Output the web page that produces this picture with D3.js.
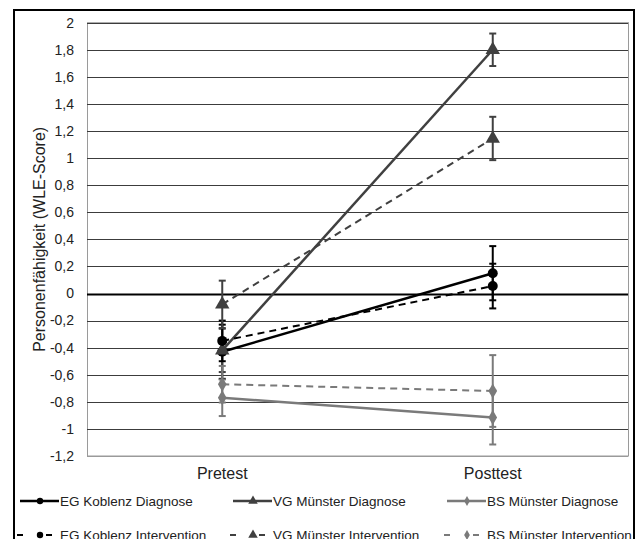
<!DOCTYPE html>
<html>
<head>
<meta charset="utf-8">
<script src="https://cdn.jsdelivr.net/npm/d3@7"></script>
<style>
  body { margin: 0; background: #fff; }
  text { font-family: "Liberation Sans", Arial, sans-serif; }
</style>
</head>
<body>
<div id="graph"></div>
<script>
var width = 639, height = 539;

// data
var categories = ["Pretest", "Posttest"];
var seriesNames = ["EG Koblenz Diagnose", "VG Münster Diagnose", "BS Münster Diagnose",
                   "EG Koblenz Intervention", "VG Münster Intervention", "BS Münster Intervention"];
var egDiagnose = [-0.43, 0.15], egDiagnoseErr = [0.2, 0.2];
var vgDiagnose = [-0.42, 1.80], vgDiagnoseErr = [0.16, 0.12];
var bsDiagnose = [-0.77, -0.915], bsDiagnoseErr = [0.135, 0.2];
var egIntervention = [-0.35, 0.055], egInterventionErr = [0.15, 0.165];
var vgIntervention = [-0.08, 1.145], vgInterventionErr = [0.175, 0.16];
var bsIntervention = [-0.67, -0.72], bsInterventionErr = [0.135, 0.265];
var yTicks = [2, 1.8, 1.6, 1.4, 1.2, 1, 0.8, 0.6, 0.4, 0.2, 0, -0.2, -0.4, -0.6, -0.8, -1, -1.2];

var series = [
  {name: seriesNames[0], values: egDiagnose, err: egDiagnoseErr, color: "#000", shape: "circle", dash: null, w: 2.5},
  {name: seriesNames[1], values: vgDiagnose, err: vgDiagnoseErr, color: "#404040", shape: "triangle", dash: null, w: 2.5},
  {name: seriesNames[2], values: bsDiagnose, err: bsDiagnoseErr, color: "#7a7a7a", shape: "diamond", dash: null, w: 2.5},
  {name: seriesNames[3], values: egIntervention, err: egInterventionErr, color: "#000", shape: "circle", dash: "7,5", w: 2},
  {name: seriesNames[4], values: vgIntervention, err: vgInterventionErr, color: "#404040", shape: "triangle", dash: "7,5", w: 2},
  {name: seriesNames[5], values: bsIntervention, err: bsInterventionErr, color: "#7a7a7a", shape: "diamond", dash: "7,5", w: 2}
];

var svg = d3.select('#graph').append('svg')
    .attr('width', width)
    .attr('height', height);

// outer frame
svg.append("rect")
    .attr("x", 14).attr("y", 10)
    .attr("width", 620).attr("height", 540)
    .attr("fill", "none").attr("stroke", "#000").attr("stroke-width", 2);

var plotLeft = 87, plotRight = 628, plotTop = 22.7, plotBottom = 456;

var x = d3.scalePoint().domain(categories).range([plotLeft, plotRight]).padding(0.5);
var y = d3.scaleLinear().domain([-1.2, 2]).range([plotBottom, plotTop]);

// plot border
svg.append("rect")
    .attr("x", plotLeft + 0.5).attr("y", plotTop)
    .attr("width", plotRight - plotLeft).attr("height", plotBottom - plotTop)
    .attr("fill", "none").attr("stroke", "#9a9a9a").attr("stroke-width", 1);

// gridlines
svg.append("g").selectAll("line")
    .data(yTicks)
  .enter().append("line")
    .attr("x1", plotLeft).attr("x2", plotRight)
    .attr("y1", function(d) { return Math.round(y(d)) + 0.5; })
    .attr("y2", function(d) { return Math.round(y(d)) + 0.5; })
    .attr("stroke", function(d) { return d === 0 ? "#000" : (d === -1.2 ? "#9a9a9a" : "#3c3c3c"); })
    .attr("stroke-width", function(d) { return d === 0 ? 2 : 1; });

// y labels
svg.append("g").selectAll("text")
    .data(yTicks)
  .enter().append("text")
    .attr("x", 74)
    .attr("y", function(d) { return y(d); })
    .attr("dy", "0.35em")
    .attr("text-anchor", "end")
    .attr("font-size", 14)
    .attr("fill", "#222")
    .text(function(d) { return String(d).replace(".", ","); });

svg.append("text")
    .attr("transform", "translate(39," + ((plotTop + plotBottom) / 2) + ") rotate(-90)")
    .attr("text-anchor", "middle")
    .attr("dy", "0.35em")
    .attr("font-size", 16)
    .attr("fill", "#222")
    .text("Personenfähigkeit (WLE-Score)");

// x labels
svg.append("g").selectAll("text")
    .data(categories)
  .enter().append("text")
    .attr("x", function(d) { return x(d); })
    .attr("y", 479)
    .attr("text-anchor", "middle")
    .attr("font-size", 16)
    .attr("fill", "#222")
    .text(function(d) { return d; });

function marker(sel, shape, size) {
  if (shape === "circle") {
    return sel.append("circle").attr("r", size);
  }
  var sym = shape === "triangle" ? d3.symbolTriangle : d3.symbolDiamond;
  var area = shape === "triangle" ? size * size * 3.6 : size * size * 2.6;
  return sel.append("path").attr("d", d3.symbol().type(sym).size(area)());
}

var line = d3.line()
    .x(function(d, i) { return x(categories[i]); })
    .y(function(d) { return y(d); });

// error bars
series.forEach(function(s) {
  var g = svg.append("g");
  s.values.forEach(function(v, i) {
    var cx = x(categories[i]);
    g.append("line")
      .attr("x1", cx).attr("x2", cx)
      .attr("y1", y(v - s.err[i])).attr("y2", y(v + s.err[i]))
      .attr("stroke", s.color).attr("stroke-width", 2);
    [v - s.err[i], v + s.err[i]].forEach(function(e) {
      g.append("line")
        .attr("x1", cx - 3.5).attr("x2", cx + 3.5)
        .attr("y1", y(e)).attr("y2", y(e))
        .attr("stroke", s.color).attr("stroke-width", 2);
    });
  });
});

// lines and markers
series.forEach(function(s) {
  svg.append("path")
    .attr("d", line(s.values))
    .attr("fill", "none")
    .attr("stroke", s.color)
    .attr("stroke-width", s.w)
    .attr("stroke-dasharray", s.dash);
  s.values.forEach(function(v, i) {
    marker(svg, s.shape, 5)
      .attr("transform", s.shape === "circle" ? null : "translate(" + x(categories[i]) + "," + y(v) + ")")
      .attr("cx", s.shape === "circle" ? x(categories[i]) : null)
      .attr("cy", s.shape === "circle" ? y(v) : null)
      .attr("fill", s.color);
  });
});

// legend
var legendCols = [20, 233, 447];
var legendRows = [501, 535];
series.forEach(function(s, i) {
  var lx = legendCols[i % 3], ly = legendRows[Math.floor(i / 3)];
  var g = svg.append("g");
  if (s.dash) {
    g.append("line")
      .attr("x1", lx - 3).attr("x2", lx + 33)
      .attr("y1", ly).attr("y2", ly)
      .attr("stroke", s.color).attr("stroke-width", s.w)
      .attr("stroke-dasharray", "6,23");
  } else {
    g.append("line")
      .attr("x1", lx).attr("x2", lx + 39)
      .attr("y1", ly).attr("y2", ly)
      .attr("stroke", s.color).attr("stroke-width", s.w);
  }
  marker(g, s.shape, s.shape === "circle" ? 3.2 : 3.3)
    .attr("transform", s.shape === "circle" ? null : "translate(" + (lx + 20) + "," + ly + ")")
    .attr("cx", s.shape === "circle" ? lx + 20 : null)
    .attr("cy", s.shape === "circle" ? ly : null)
    .attr("fill", s.color);
  g.append("text")
    .attr("x", lx + 40).attr("y", ly)
    .attr("dy", "0.35em")
    .attr("font-size", 13.5)
    .attr("fill", "#222")
    .text(s.name);
});
</script>
</body>
</html>
